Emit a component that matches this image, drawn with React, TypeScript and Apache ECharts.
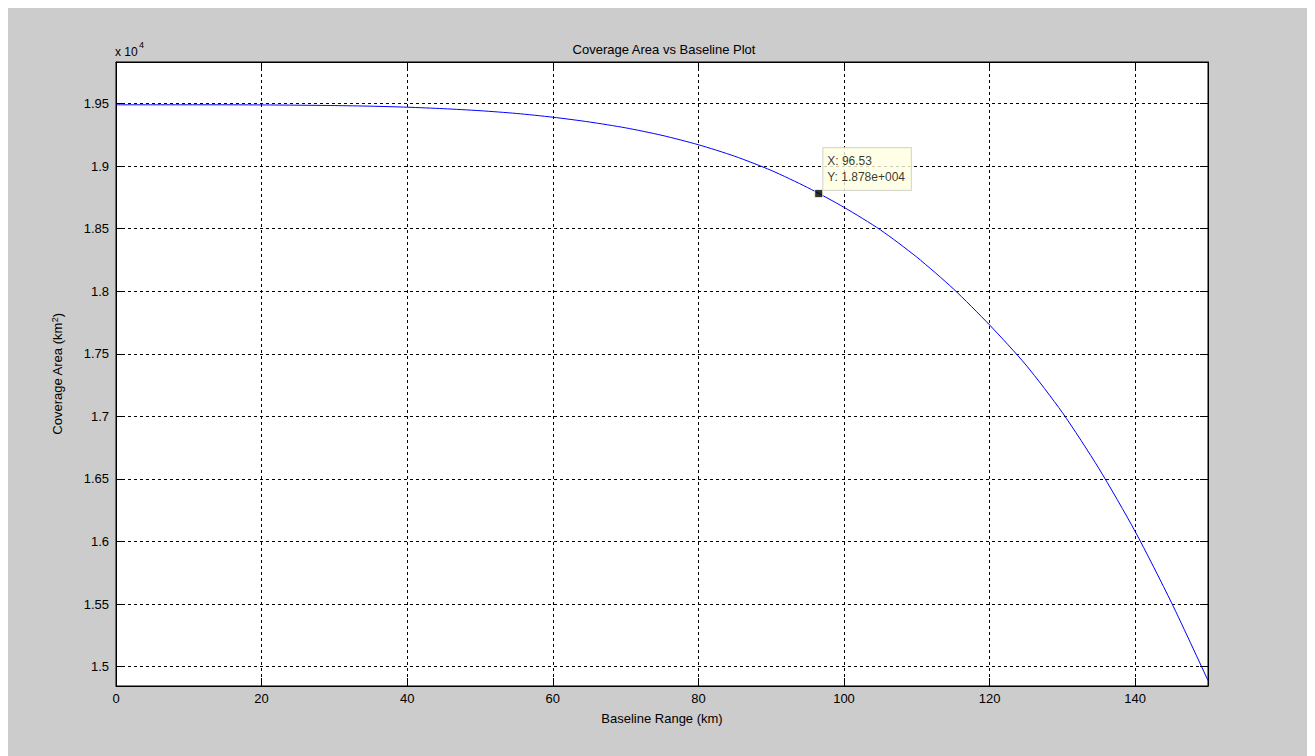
import React, { useEffect, useRef } from "react";
import * as echarts from "echarts";

// Baseline range (km) and the corresponding coverage area (km^2)
const baselineKm = [
  0, 5, 10, 15, 20, 25, 30, 35, 40, 45, 50, 55, 60, 65, 70, 75, 80, 85, 90, 95,
  100, 105, 110, 115, 120, 125, 130, 135, 140, 145, 150,
];
const coverageArea = [
  19489, 19489, 19489, 19489, 19488, 19486, 19483, 19478, 19470, 19458, 19442,
  19420, 19390, 19352, 19305, 19245, 19170, 19078, 18965, 18828, 18670, 18490,
  18272, 18020, 17730, 17410, 17030, 16585, 16080, 15510, 14890,
];

// Data cursor point
const cursorPoint = [96.53, 18780];

// Axis settings
const xTicks = [0, 20, 40, 60, 80, 100, 120, 140];
const yTicks = [15000, 15500, 16000, 16500, 17000, 17500, 18000, 18500, 19000, 19500];
const xRange = [0, 150];
const yRange = [14846, 19831];

const FONT = "'Liberation Sans', Arial, Helvetica, sans-serif";

export default function App() {
  const ref = useRef<HTMLDivElement>(null);

  useEffect(() => {
    document.documentElement.style.overflow = "hidden";
    document.body.style.overflow = "hidden";
    if (!ref.current) return;
    const chart = echarts.init(ref.current, undefined, { renderer: "svg" });

    const lineStyle = { show: true, onZero: false, lineStyle: { color: "#000", width: 1 } };
    const gridLine = { show: true, lineStyle: { color: "#000", width: 1, type: [3, 3] as any } };
    const xTick = { show: true, inside: true, length: 8, customValues: xTicks, lineStyle: { color: "#000", width: 1 } };
    const yTick = { show: true, inside: true, length: 8, customValues: yTicks, lineStyle: { color: "#000", width: 1 } };

    const sci = (v: number) => `${(v / 1e4).toFixed(3)}e+004`;

    chart.setOption({
      animation: false,
      backgroundColor: "#cccccc",
      textStyle: { fontFamily: FONT },
      title: {
        text: "Coverage Area vs Baseline Plot",
        left: 651,
        top: 30,
        textAlign: "center",
        textStyle: { fontFamily: FONT, fontSize: 13, fontWeight: "normal", color: "#000" },
      },
      grid: {
        left: 108,
        top: 54,
        width: 1092,
        height: 624,
        show: true,
        backgroundColor: "#ffffff",
        borderColor: "#000",
        borderWidth: 1,
      },
      xAxis: [
        {
          type: "value",
          position: "bottom",
          min: xRange[0],
          max: xRange[1],
          axisLine: lineStyle,
          axisTick: xTick,
          splitLine: gridLine,
          axisLabel: {
            customValues: xTicks,
            margin: 6,
            fontFamily: FONT,
            fontSize: 13,
            color: "#000",
            formatter: (v: number) => String(v),
          },
          name: "Baseline Range (km)",
          nameLocation: "middle",
          nameGap: 26,
          nameTextStyle: { fontFamily: FONT, fontSize: 13, color: "#000", verticalAlign: "top" },
        },
        {
          type: "value",
          position: "top",
          min: xRange[0],
          max: xRange[1],
          axisLine: lineStyle,
          axisTick: xTick,
          splitLine: { show: false },
          axisLabel: { show: false },
        },
      ],
      yAxis: [
        {
          type: "value",
          position: "left",
          min: yRange[0],
          max: yRange[1],
          axisLine: lineStyle,
          axisTick: yTick,
          splitLine: gridLine,
          axisLabel: {
            customValues: yTicks,
            margin: 7,
            fontFamily: FONT,
            fontSize: 13,
            color: "#000",
            formatter: (v: number) => String(v / 1e4),
          },
          name: "Coverage Area (km{s|2})",
          nameLocation: "middle",
          nameGap: 51,
          nameRotate: 90,
          nameTextStyle: {
            fontFamily: FONT,
            fontSize: 13,
            color: "#000",
            rich: {
              s: { fontFamily: FONT, fontSize: 9, color: "#000", verticalAlign: "top", lineHeight: 15 },
            },
          },
        },
        {
          type: "value",
          position: "right",
          min: yRange[0],
          max: yRange[1],
          axisLine: lineStyle,
          axisTick: yTick,
          splitLine: { show: false },
          axisLabel: { show: false },
        },
      ],
      graphic: [
        {
          type: "text",
          left: 107,
          top: 38,
          style: { text: "x 10", fontFamily: FONT, fontSize: 12, fill: "#000" },
        },
        {
          type: "text",
          left: 131,
          top: 32,
          style: { text: "4", fontFamily: FONT, fontSize: 9, fill: "#000" },
        },
      ],
      series: [
        {
          type: "line",
          data: baselineKm.map((x, i) => [x, coverageArea[i]]),
          showSymbol: false,
          smooth: 0.25,
          lineStyle: { color: "#0000ff", width: 1 },
          z: 3,
        },
        {
          type: "scatter",
          data: [cursorPoint],
          symbol: "rect",
          symbolSize: 8,
          itemStyle: { color: "#000", borderColor: "#ffffe1", borderWidth: 1 },
          z: 5,
          label: {
            show: true,
            position: [9, -41],
            formatter: () => `X: ${cursorPoint[0]}\nY: ${sci(cursorPoint[1])}`,
            fontFamily: FONT,
            fontSize: 12,
            lineHeight: 16,
            color: "#000",
            align: "left",
            backgroundColor: "#ffffe1",
            borderColor: "#d0d0c0",
            borderWidth: 1,
            padding: [5, 6, 5, 4],
          },
        },
      ],
    });

    return () => chart.dispose();
  }, []);

  return <div ref={ref} style={{ width: 1303, height: 748 }} />;
}
